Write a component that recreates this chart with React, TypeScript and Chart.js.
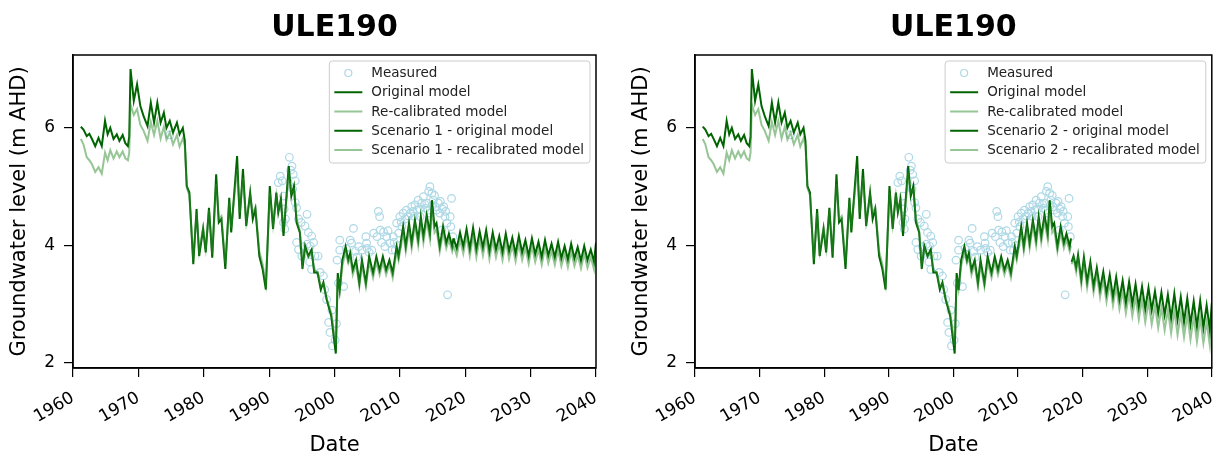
import React, { useEffect, useRef } from 'react';
import { Chart, registerables } from 'chart.js';

Chart.register(...registerables);

const FONT = '"DejaVu Sans", "Liberation Sans", sans-serif';

// ---------- text ----------
const chartTitle = 'ULE190';
const yAxisTitle = 'Groundwater level (m AHD)';
const xAxisTitle = 'Date';
const labelMeasured = 'Measured';
const labelOriginal = 'Original model';
const labelRecal = 'Re-calibrated model';
const labelsScenario1 = ['Scenario 1 - original model', 'Scenario 1 - recalibrated model'];
const labelsScenario2 = ['Scenario 2 - original model', 'Scenario 2 - recalibrated model'];

// ---------- ticks ----------
const xTicks = [1960, 1970, 1980, 1990, 2000, 2010, 2020, 2030, 2040];
const yTicks = [2, 4, 6];
const xRange = [1960, 2040];
const yRange = [1.915, 7.24];

// ---------- historical model ----------
const histYears = [
  1961.2, 1961.6, 1962.1, 1962.5, 1962.9, 1963.4, 1963.9, 1964.4, 1964.9, 1965.3,
  1965.7, 1966.2, 1966.7, 1967.1, 1967.6, 1968.0, 1968.4, 1968.6, 1968.8, 1969.3,
  1969.8, 1970.3, 1970.8, 1971.4, 1971.9, 1972.4, 1972.9, 1973.4, 1973.9, 1974.3,
  1974.8, 1975.3, 1975.9, 1976.3, 1976.8, 1977.1, 1977.4, 1977.8, 1978.4, 1978.9,
  1979.3, 1979.9, 1980.3, 1980.8, 1981.3, 1981.9, 1982.3, 1982.7, 1983.3, 1983.9,
  1984.2, 1985.1, 1985.5, 1986.0, 1986.5, 1987.1, 1987.5, 1987.9, 1988.5, 1989.0,
  1989.5, 1990.1, 1990.6, 1991.1, 1991.4, 1991.8, 1992.2, 1993.0, 1993.4, 1993.8,
  1994.2, 1994.7, 1995.1, 1995.5, 1996.0, 1996.5, 1996.9, 1997.4, 1997.9, 1998.3,
  1998.8, 1999.5, 2000.2, 2000.5, 2000.8, 2001.2, 2001.7, 2002.1, 2002.4, 2002.8,
  2003.3, 2003.8, 2004.2, 2004.8, 2005.3, 2005.9, 2006.4, 2006.9, 2007.4, 2007.9,
  2008.4, 2008.9, 2009.5, 2009.8, 2010.5, 2010.9, 2011.4, 2011.8, 2012.3, 2012.8,
  2013.2, 2013.6, 2014.1, 2014.6, 2014.9, 2015.3, 2015.6, 2016.1, 2016.6, 2017.1,
  2017.5, 2018.0, 2018.2,
];
const histOriginal = [
  6.02, 5.97, 5.86, 5.90, 5.81, 5.69, 5.83, 5.69, 6.12, 5.89,
  6.00, 5.81, 5.89, 5.78, 5.88, 5.74, 5.69, 5.85, 7.00, 6.46,
  6.74, 6.37, 6.20, 6.03, 6.43, 6.09, 6.43, 6.09, 6.26, 6.00,
  6.12, 5.92, 6.09, 5.89, 6.00, 5.78, 5.01, 4.90, 3.68, 4.62,
  3.82, 4.28, 3.88, 4.64, 3.79, 5.21, 4.39, 4.45, 3.60, 4.81,
  4.22, 5.52, 4.45, 5.30, 4.33, 4.90, 4.45, 4.62, 3.82, 3.60,
  3.25, 5.01, 4.28, 4.90, 4.56, 4.79, 4.16, 5.35, 4.84, 5.01,
  4.39, 4.22, 3.60, 3.99, 3.82, 3.93, 3.54, 3.54, 3.25, 3.37,
  3.08, 2.80, 2.16, 3.53, 3.24, 3.75, 3.98, 3.75, 3.87, 3.58,
  3.75, 3.36, 3.75, 3.36, 3.81, 3.53, 3.81, 3.58, 3.81, 3.58,
  3.75, 3.53, 3.98, 3.81, 4.32, 3.98, 4.38, 4.04, 4.43, 4.09,
  4.49, 4.15, 4.52, 4.20, 4.77, 4.32, 4.38, 3.98, 4.32, 4.04,
  4.20, 3.98, 4.12,
];
const histRecalibrated = [
  5.81, 5.72, 5.50, 5.45, 5.38, 5.25, 5.33, 5.22, 5.58, 5.45,
  5.62, 5.48, 5.60, 5.50, 5.60, 5.48, 5.45, 5.58, 6.40, 6.22,
  6.32, 6.05, 5.95, 5.78, 6.10, 5.88, 6.12, 5.82, 6.02, 5.80,
  5.92, 5.72, 5.88, 5.68, 5.82, 5.70, 4.98, 4.85, 3.75, 4.55,
  3.90, 4.30, 3.95, 4.60, 3.85, 5.05, 4.45, 4.50, 3.70, 4.75,
  4.30, 5.30, 4.55, 5.15, 4.40, 4.85, 4.55, 4.65, 3.90, 3.68,
  3.35, 4.90, 4.35, 4.85, 4.60, 4.75, 4.25, 5.20, 4.90, 4.95,
  4.45, 4.25, 3.70, 3.95, 3.80, 3.88, 3.58, 3.55, 3.30, 3.35,
  3.10, 2.85, 2.30, 3.45, 3.25, 3.65, 3.90, 3.70, 3.80, 3.50,
  3.68, 3.30, 3.68, 3.30, 3.72, 3.45, 3.72, 3.50, 3.72, 3.50,
  3.68, 3.45, 3.90, 3.75, 4.22, 3.90, 4.28, 3.95, 4.35, 4.00,
  4.40, 4.05, 4.42, 4.10, 4.65, 4.22, 4.28, 3.90, 4.22, 3.95,
  4.10, 3.90, 4.00,
];

// ---------- scenario 1 ----------
const s1Years = [
  2018.2, 2018.7, 2019.2, 2019.7, 2020.2, 2020.7, 2021.2, 2021.7, 2022.2, 2022.7,
  2023.2, 2023.7, 2024.2, 2024.7, 2025.2, 2025.7, 2026.2, 2026.7, 2027.2, 2027.7,
  2028.2, 2028.7, 2029.2, 2029.7, 2030.2, 2030.7, 2031.2, 2031.7, 2032.2, 2032.7,
  2033.2, 2033.7, 2034.2, 2034.7, 2035.2, 2035.7, 2036.2, 2036.7, 2037.2, 2037.7,
  2038.2, 2038.7, 2039.2, 2039.7, 2040.0,
];
const s1Original = [
  4.12, 3.95, 4.22, 3.98, 4.28, 3.94, 4.30, 3.93, 4.24, 3.96,
  4.26, 3.90, 4.22, 3.93, 4.16, 3.88, 4.20, 3.90, 4.13, 3.86,
  4.16, 3.88, 4.09, 3.82, 4.12, 3.85, 4.06, 3.80, 4.09, 3.83,
  4.03, 3.80, 4.06, 3.78, 3.99, 3.76, 4.03, 3.78, 3.97, 3.74,
  3.99, 3.75, 3.93, 3.72, 4.05,
];
const s1Recalibrated = [
  4.00, 3.83, 4.10, 3.86, 4.16, 3.82, 4.17, 3.80, 4.11, 3.83,
  4.13, 3.77, 4.09, 3.80, 4.03, 3.75, 4.07, 3.77, 4.00, 3.73,
  4.03, 3.75, 3.96, 3.69, 3.99, 3.72, 3.93, 3.67, 3.96, 3.70,
  3.90, 3.67, 3.93, 3.65, 3.86, 3.63, 3.90, 3.65, 3.84, 3.61,
  3.86, 3.62, 3.80, 3.59, 3.92,
];

// ---------- scenario 2 ----------
const s2Years = [
  2018.3, 2018.6, 2019.0, 2019.3, 2019.8, 2020.2, 2020.7, 2021.2, 2021.7, 2022.2,
  2022.7, 2023.2, 2023.7, 2024.2, 2024.7, 2025.2, 2025.7, 2026.2, 2026.7, 2027.2,
  2027.7, 2028.2, 2028.7, 2029.2, 2029.7, 2030.2, 2030.7, 2031.2, 2031.7, 2032.2,
  2032.7, 2033.2, 2033.7, 2034.2, 2034.7, 2035.2, 2035.7, 2036.2, 2036.7, 2037.2,
  2037.7, 2038.2, 2038.7, 2039.2, 2039.7, 2040.0,
];
const s2Original = [
  3.72, 3.82, 3.62, 3.84, 3.42, 3.80, 3.38, 3.72, 3.30, 3.62,
  3.25, 3.55, 3.18, 3.50, 3.12, 3.46, 3.08, 3.40, 3.02, 3.38,
  3.00, 3.34, 2.95, 3.30, 2.92, 3.28, 2.90, 3.22, 2.85, 3.20,
  2.82, 3.16, 2.76, 3.18, 2.74, 3.12, 2.70, 3.10, 2.66, 3.05,
  2.62, 3.06, 2.60, 2.98, 2.56, 3.02,
];
const s2Recalibrated = [
  3.68, 3.78, 3.55, 3.78, 3.33, 3.72, 3.28, 3.62, 3.20, 3.52,
  3.12, 3.42, 3.04, 3.36, 2.98, 3.30, 2.92, 3.22, 2.85, 3.18,
  2.80, 3.12, 2.74, 3.08, 2.70, 3.04, 2.66, 2.98, 2.60, 2.94,
  2.56, 2.90, 2.51, 2.90, 2.48, 2.84, 2.44, 2.82, 2.40, 2.78,
  2.36, 2.76, 2.34, 2.70, 2.30, 2.72,
];

// ---------- measured ----------
const measuredYears = [
  1974.8,
  1991.4, 1991.7, 1992.0, 1992.2, 1992.3, 1992.2, 1992.4, 1992.5, 1993.1, 1993.3,
  1993.5, 1993.7, 1994.0, 1993.6, 1994.0, 1994.2, 1994.2, 1994.5, 1994.5, 1994.9,
  1995.0, 1995.2, 1995.5, 1995.8, 1995.8, 1996.0, 1996.2, 1996.3, 1996.5, 1996.5,
  1996.8, 1997.0, 1997.5, 1997.8, 1998.3, 1998.5, 1998.8, 1999.1, 1999.3, 1999.7,
  1999.6, 2000.1, 2000.3, 2000.4, 2000.6, 2000.8, 2000.8, 2001.4, 2001.8, 2002.0,
  2002.4, 2002.6, 2002.9, 2003.2, 2003.4, 2003.7, 2004.2, 2004.8, 2004.9, 2005.0,
  2005.3, 2005.7, 2006.0, 2006.5, 2006.7, 2006.9, 2007.0, 2007.2, 2007.5, 2007.7,
  2008.0, 2008.2, 2008.5, 2008.8, 2009.0, 2009.1, 2009.3, 2009.5, 2009.7, 2009.8,
  2010.0, 2010.2, 2010.3, 2010.5, 2010.8, 2011.0, 2011.3, 2011.6, 2011.8, 2012.0,
  2012.2, 2012.3, 2012.6, 2012.8, 2013.0, 2013.1, 2013.3, 2013.6, 2013.8, 2013.9,
  2014.1, 2014.3, 2014.4, 2014.6, 2014.6, 2014.9, 2015.0, 2015.1, 2015.3, 2015.4,
  2015.6, 2015.9, 2016.1, 2016.2, 2016.4, 2016.5, 2016.7, 2016.9, 2017.0, 2017.2,
  2017.3, 2017.7, 2017.8, 2017.9, 2018.1,
];
const measuredLevels = [
  5.88,
  5.07, 5.18, 5.10, 4.84, 4.62, 4.39, 4.28, 4.45, 5.50, 5.28,
  5.35, 5.21, 5.10, 4.96, 4.73, 4.64, 4.05, 3.93, 4.45, 4.39,
  3.82, 3.98, 4.33, 4.53, 4.02, 4.22, 3.72, 3.99, 4.16, 3.59,
  4.05, 3.82, 3.82, 3.54, 3.48, 3.25, 3.08, 2.69, 2.52, 2.29,
  2.90, 2.39, 2.67, 3.75, 3.36, 3.92, 4.09, 3.30, 3.95, 3.85,
  4.09, 4.04, 4.29, 3.90, 3.80, 3.98, 3.92, 4.15, 4.04, 3.95,
  3.88, 3.92, 4.21, 4.15, 4.58, 4.49, 4.26, 4.05, 4.23, 3.98,
  4.15, 4.25, 4.04, 3.92, 4.15, 4.05, 3.92, 4.38, 4.00, 4.21,
  4.49, 4.40, 4.32, 4.55, 4.45, 4.60, 4.50, 4.55, 4.66, 4.58,
  4.50, 4.69, 4.60, 4.77, 4.62, 4.49, 4.72, 4.83, 4.70, 4.63,
  4.72, 4.60, 4.92, 5.00, 4.55, 4.89, 4.68, 4.77, 4.85, 4.66,
  4.60, 4.72, 4.55, 4.75, 4.26, 4.62, 4.66, 4.49, 4.58, 4.38,
  3.16, 4.49, 4.32, 4.80, 4.15,
];

// ---------- colours ----------
const colorMeasured = '#add8e6';
const colorOriginal = '#006400';
const colorRecal = 'rgba(46,139,46,0.5)';

const toPoints = (xs: number[], ys: number[]) => xs.map((x, i) => ({ x, y: ys[i] }));

const framePlugin = {
  id: 'frameAndTitle',
  afterDraw(chart: any, _args: any, opts: any) {
    const { ctx, chartArea } = chart;
    ctx.save();
    ctx.strokeStyle = '#000';
    ctx.lineWidth = 1.5;
    ctx.strokeRect(chartArea.left, chartArea.top, chartArea.right - chartArea.left, chartArea.bottom - chartArea.top);
    ctx.font = `bold 30px ${FONT}`;
    ctx.fillStyle = '#000';
    ctx.textAlign = 'center';
    ctx.textBaseline = 'middle';
    ctx.fillText(opts.text, (chartArea.left + chartArea.right) / 2, opts.y);
    ctx.restore();
  },
};

const boxLegendPlugin = {
  id: 'boxLegend',
  afterDraw(chart: any) {
    const { ctx, chartArea } = chart;
    const items = chart.data.datasets;
    ctx.save();
    ctx.font = `13.5px ${FONT}`;
    const rowH = 19.25;
    const textW = Math.max(...items.map((d: any) => ctx.measureText(d.label).width));
    const boxW = 42 + textW + 6;
    const boxH = 12 + rowH * (items.length - 1) + 13;
    const right = chartArea.right - 6;
    const top = chartArea.top + 6;
    const left = right - boxW;
    const r = 3;
    ctx.beginPath();
    ctx.moveTo(left + r, top);
    ctx.lineTo(right - r, top);
    ctx.quadraticCurveTo(right, top, right, top + r);
    ctx.lineTo(right, top + boxH - r);
    ctx.quadraticCurveTo(right, top + boxH, right - r, top + boxH);
    ctx.lineTo(left + r, top + boxH);
    ctx.quadraticCurveTo(left, top + boxH, left, top + boxH - r);
    ctx.lineTo(left, top + r);
    ctx.quadraticCurveTo(left, top, left + r, top);
    ctx.closePath();
    ctx.fillStyle = 'rgba(255,255,255,0.85)';
    ctx.fill();
    ctx.strokeStyle = '#cccccc';
    ctx.lineWidth = 1;
    ctx.stroke();
    items.forEach((d: any, i: number) => {
      const cy = top + 12 + i * rowH;
      if (d.showLine === false) {
        ctx.beginPath();
        ctx.arc(left + 19, cy, 3.5, 0, Math.PI * 2);
        ctx.strokeStyle = d.pointBorderColor;
        ctx.lineWidth = 1.2;
        ctx.stroke();
      } else {
        ctx.beginPath();
        ctx.moveTo(left + 5, cy);
        ctx.lineTo(left + 33, cy);
        ctx.strokeStyle = d.borderColor;
        ctx.lineWidth = d.borderWidth;
        ctx.stroke();
      }
      ctx.fillStyle = '#222';
      ctx.textAlign = 'left';
      ctx.textBaseline = 'middle';
      ctx.fillText(d.label, left + 42, cy + 0.5);
    });
    ctx.restore();
  },
};

type PanelProps = {
  canvasLeft: number;
  canvasWidth: number;
  yAxisWidth: number;
  yTitlePad: number;
  rightPad: number;
  scenarioLabels: string[];
  scenarioYears: number[];
  scenarioOriginal: number[];
  scenarioRecal: number[];
};

function Panel(props: PanelProps) {
  const ref = useRef<HTMLCanvasElement | null>(null);
  useEffect(() => {
    if (!ref.current) return;
    const tickFont = { family: FONT, size: 17 };
    const titleFont = { family: FONT, size: 21 };
    const chart = new Chart(ref.current, {
      type: 'scatter',
      data: {
        datasets: [
          {
            label: labelMeasured,
            data: toPoints(measuredYears, measuredLevels),
            showLine: false,
            pointRadius: 3.8,
            pointStyle: 'circle',
            pointBorderColor: colorMeasured,
            pointBackgroundColor: 'rgba(0,0,0,0)',
            pointBorderWidth: 1.2,
            borderColor: colorMeasured,
            backgroundColor: 'rgba(0,0,0,0)',
            order: 5,
          } as any,
          {
            label: labelOriginal,
            data: toPoints(histYears, histOriginal),
            showLine: true,
            borderColor: colorOriginal,
            borderWidth: 2,
            pointRadius: 0,
            tension: 0,
            order: 4,
          },
          {
            label: labelRecal,
            data: toPoints(histYears, histRecalibrated),
            showLine: true,
            borderColor: colorRecal,
            borderWidth: 2,
            pointRadius: 0,
            tension: 0,
            order: 3,
          },
          {
            label: props.scenarioLabels[0],
            data: toPoints(props.scenarioYears, props.scenarioOriginal),
            showLine: true,
            borderColor: colorOriginal,
            borderWidth: 2,
            pointRadius: 0,
            tension: 0,
            order: 2,
          },
          {
            label: props.scenarioLabels[1],
            data: toPoints(props.scenarioYears, props.scenarioRecal),
            showLine: true,
            borderColor: colorRecal,
            borderWidth: 2,
            pointRadius: 0,
            tension: 0,
            order: 1,
          },
        ],
      },
      options: {
        responsive: false,
        animation: false,
        events: [],
        layout: { padding: { left: 0, top: 55, right: props.rightPad, bottom: 0 } },
        plugins: {
          legend: { display: false },
          tooltip: { enabled: false },
          frameAndTitle: { text: chartTitle, y: 28 },
        } as any,
        scales: {
          x: {
            type: 'linear',
            min: xRange[0],
            max: xRange[1],
            afterBuildTicks: (s: any) => {
              s.ticks = xTicks.map((v) => ({ value: v }));
            },
            ticks: {
              callback: (v: any) => String(v),
              minRotation: 30,
              maxRotation: 30,
              autoSkip: false,
              font: tickFont,
              color: '#000',
              padding: 11,
            },
            grid: { display: true, drawOnChartArea: false, drawTicks: true, tickLength: 9, color: '#000', lineWidth: 1.2 },
            border: { display: true, color: '#000', width: 1.5 },
            title: { display: true, text: xAxisTitle, font: titleFont, color: '#000', padding: { top: 0, bottom: 1 } },
            afterFit: (s: any) => {
              s.height = 91;
              s.paddingLeft = 0;
              s.paddingRight = 0;
            },
          },
          y: {
            type: 'linear',
            min: yRange[0],
            max: yRange[1],
            afterBuildTicks: (s: any) => {
              s.ticks = yTicks.map((v) => ({ value: v }));
            },
            ticks: { font: tickFont, color: '#000', padding: 9 },
            grid: { display: true, drawOnChartArea: false, drawTicks: true, tickLength: 9, color: '#000', lineWidth: 1.2 },
            border: { display: true, color: '#000', width: 1.5 },
            title: { display: true, text: yAxisTitle, font: titleFont, color: '#000', padding: { top: props.yTitlePad, bottom: 0 } },
            afterFit: (s: any) => {
              s.width = props.yAxisWidth;
              s.paddingTop = 0;
              s.paddingBottom = 0;
            },
          },
        },
      } as any,
      plugins: [framePlugin, boxLegendPlugin],
    });
    return () => chart.destroy();
  }, []);
  return (
    <canvas
      ref={ref}
      width={props.canvasWidth}
      height={459}
      style={{ position: 'absolute', left: props.canvasLeft, top: 0, width: props.canvasWidth, height: 459 }}
    />
  );
}

export default function App() {
  return (
    <div style={{ position: 'absolute', left: 0, top: 0, width: 1217, height: 459, background: '#fff' }}>
      <Panel
        canvasLeft={0}
        canvasWidth={608}
        yAxisWidth={73}
        yTitlePad={7}
        rightPad={12}
        scenarioLabels={labelsScenario1}
        scenarioYears={s1Years}
        scenarioOriginal={s1Original}
        scenarioRecal={s1Recalibrated}
      />
      <Panel
        canvasLeft={608}
        canvasWidth={609}
        yAxisWidth={87}
        yTitlePad={21}
        rightPad={2}
        scenarioLabels={labelsScenario2}
        scenarioYears={s2Years}
        scenarioOriginal={s2Original}
        scenarioRecal={s2Recalibrated}
      />
    </div>
  );
}
